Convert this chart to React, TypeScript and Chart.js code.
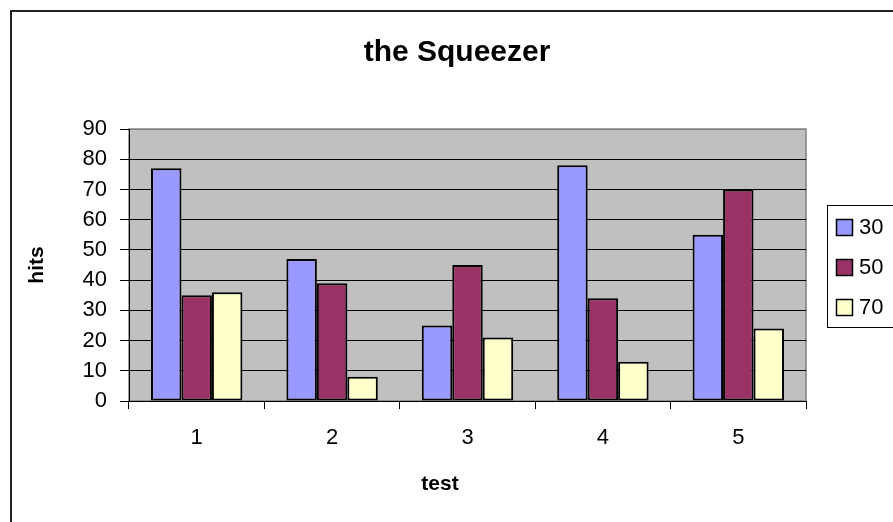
import React, { useEffect, useRef } from 'react';
import { Chart, registerables } from 'chart.js';

Chart.register(...registerables);

const categories = ['1', '2', '3', '4', '5'];
const seriesNames = ['30', '50', '70'];
const series30 = [77, 47, 25, 78, 55];
const series50 = [35, 39, 45, 34, 70];
const series70 = [36, 8, 21, 13, 24];
const yMin = 0;
const yMax = 90;
const yStep = 10;
const seriesColors = ['#9999FF', '#993366', '#FFFFCC'];
const chartTitle = 'the Squeezer';
const xTitle = 'test';
const yTitle = 'hits';

const FONT = "'Liberation Sans', Arial, sans-serif";

const decorPlugin = {
  id: 'decor',
  beforeDraw(chart: any) {
    const { ctx, chartArea } = chart;
    ctx.save();
    ctx.fillStyle = '#FFFFFF';
    ctx.fillRect(0, 0, chart.width, chart.height);
    // outer frame
    ctx.strokeStyle = '#222222';
    ctx.lineWidth = 2;
    ctx.strokeRect(11, 11, chart.width + 50, chart.height + 50);
    // plot area
    ctx.fillStyle = '#C0C0C0';
    ctx.fillRect(chartArea.left, chartArea.top, chartArea.right - chartArea.left, chartArea.bottom - chartArea.top);
    ctx.strokeStyle = '#808080';
    ctx.lineWidth = 1.5;
    ctx.strokeRect(chartArea.left, chartArea.top, chartArea.right - chartArea.left, chartArea.bottom - chartArea.top);
    ctx.restore();
  },
  afterDraw(chart: any) {
    const { ctx } = chart;
    ctx.save();
    // title
    ctx.fillStyle = '#000';
    ctx.font = `bold 30px ${FONT}`;
    ctx.textAlign = 'center';
    ctx.textBaseline = 'middle';
    ctx.fillText(chartTitle, 457, 53);
    // x-axis title
    ctx.font = `bold 21px ${FONT}`;
    ctx.fillText(xTitle, 440, 484);
    // legend
    const bx = 827.5, by = 205.5, bw = 100, bh = 122;
    ctx.fillStyle = '#FFFFFF';
    ctx.fillRect(bx, by, bw, bh);
    ctx.strokeStyle = '#000';
    ctx.lineWidth = 1;
    ctx.strokeRect(bx, by, bw, bh);
    ctx.font = `22px ${FONT}`;
    ctx.textAlign = 'left';
    chart.data.datasets.forEach((ds: any, i: number) => {
      const cy = 227.5 + i * 40;
      ctx.fillStyle = ds.backgroundColor;
      ctx.fillRect(836.5, cy - 8, 16, 16);
      ctx.strokeStyle = '#000';
      ctx.lineWidth = 1.5;
      ctx.strokeRect(836.5, cy - 8, 16, 16);
      ctx.fillStyle = '#000';
      ctx.fillText(ds.label, 859, cy);
    });
    ctx.restore();
  },
};

export default function App() {
  const ref = useRef<HTMLCanvasElement>(null);
  useEffect(() => {
    if (!ref.current) return;
    const values = [series30, series50, series70];
    const chart = new Chart(ref.current, {
      type: 'bar',
      data: {
        labels: categories,
        datasets: seriesNames.map((name, i) => ({
          label: name,
          data: values[i],
          backgroundColor: seriesColors[i],
          borderColor: '#000000',
          borderWidth: 2,
          borderSkipped: false,
          categoryPercentage: 0.675,
          barPercentage: 1.0,
        })),
      },
      options: {
        animation: false,
        responsive: false,
        devicePixelRatio: 1,
        events: [],
        layout: { padding: { left: 19, right: 87, top: 129, bottom: 20 } },
        plugins: {
          legend: { display: false },
          title: { display: false },
          tooltip: { enabled: false },
        },
        scales: {
          x: {
            grid: {
              display: true,
              drawOnChartArea: false,
              drawTicks: true,
              tickLength: 8,
              tickColor: '#000',
              offset: true,
            },
            border: { display: true, color: '#000', width: 1 },
            ticks: { color: '#000', font: { family: FONT, size: 22 }, padding: 16 },
            title: { display: false },
            afterFit(scale: any) {
              scale.height = 101;
            },
          },
          y: {
            min: yMin,
            max: yMax,
            ticks: {
              stepSize: yStep,
              color: '#000',
              font: { family: FONT, size: 22 },
              padding: 13,
            },
            grid: {
              color: (c: any) => (c.tick && c.tick.value === yMax ? '#808080' : '#000'),
              tickColor: '#000',
              tickLength: 9,
              lineWidth: 1,
            },
            border: { display: true, color: '#000', width: 1 },
            title: {
              display: true,
              text: yTitle,
              color: '#000',
              font: { family: FONT, size: 21, weight: 'bold' },
              padding: { top: 6, bottom: 0 },
            },
            afterFit(scale: any) {
              scale.width = 110;
            },
          },
        },
      },
      plugins: [decorPlugin],
    });
    return () => chart.destroy();
  }, []);
  return (
    <div style={{ position: 'absolute', left: 0, top: 0, width: 893, height: 522 }}>
      <canvas ref={ref} width={893} height={522} style={{ display: 'block' }} />
    </div>
  );
}
